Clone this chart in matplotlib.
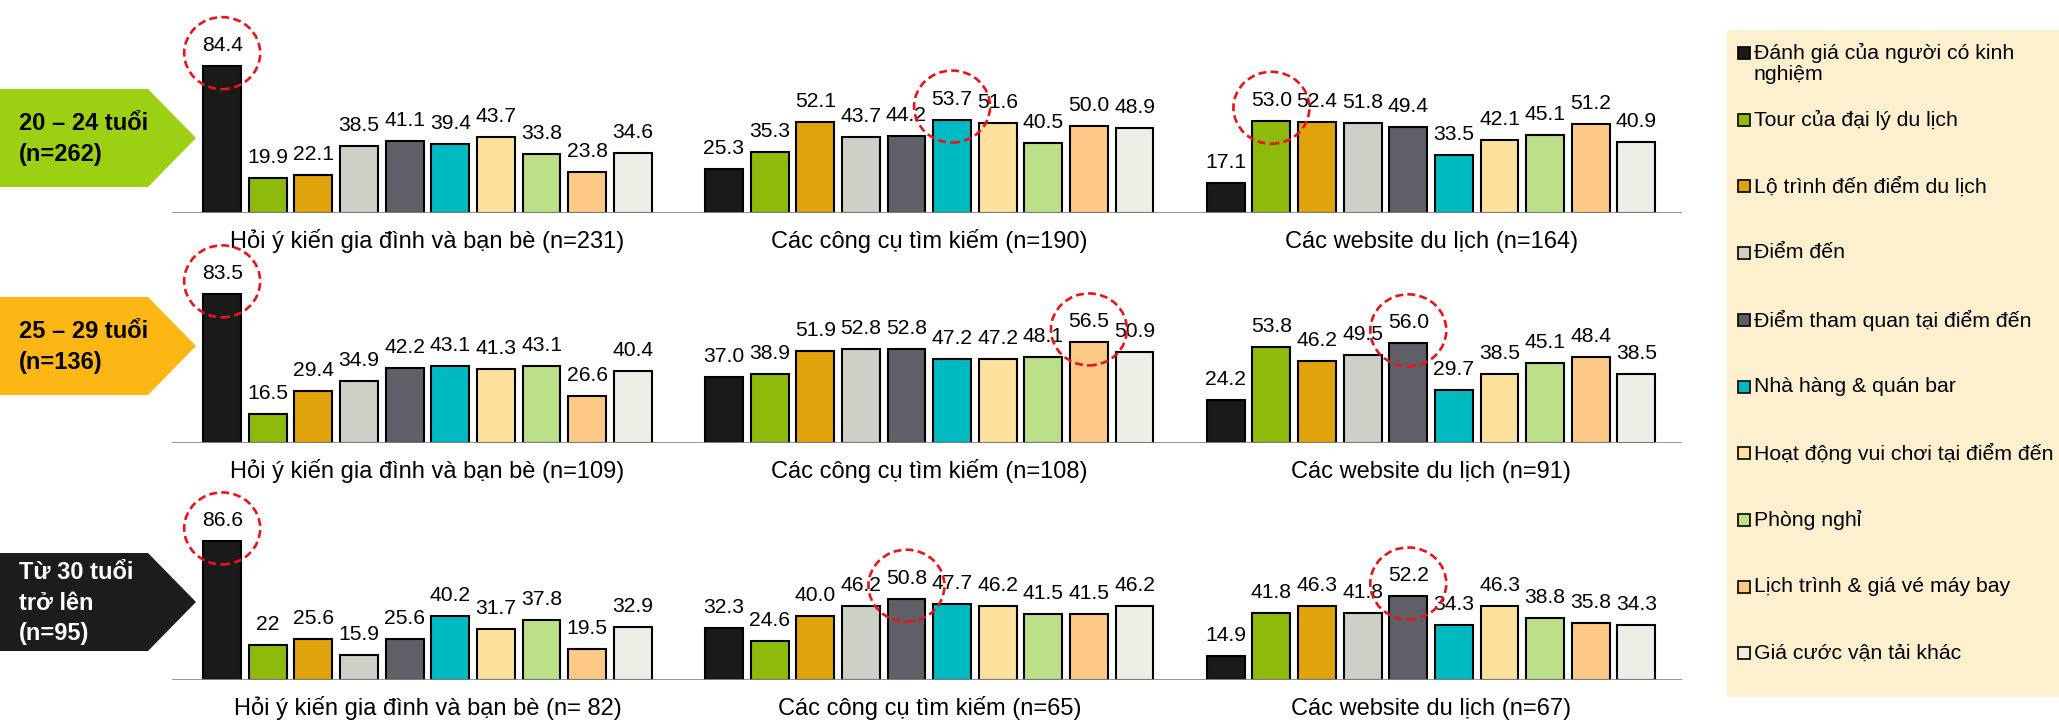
import matplotlib.pyplot as plt
from matplotlib.patches import Ellipse, Polygon, Rectangle
from matplotlib.transforms import ScaledTranslation

plt.rcParams['font.family'] = ['Liberation Sans', 'DejaVu Sans']

W, H, DPI = 2059, 724, 100

# info sources (one panel each) and answer categories (one bar each)
sources = ["Hỏi ý kiến gia đình và bạn bè", "Các công cụ tìm kiếm", "Các website du lịch"]
categories = [
    "Đánh giá của người có kinh\nnghiệm",
    "Tour của đại lý du lịch",
    "Lộ trình đến điểm du lịch",
    "Điểm đến",
    "Điểm tham quan tại điểm đến",
    "Nhà hàng & quán bar",
    "Hoạt động vui chơi tại điểm đến",
    "Phòng nghỉ",
    "Lịch trình & giá vé máy bay",
    "Giá cước vận tải khác",
]
bar_colors = ["#1A1A1A", "#8DBA0B", "#E0A30C", "#CDD0C7", "#5F5F67",
              "#00BAC2", "#FEE19D", "#BCDF89", "#FEC986", "#EDEEE6"]

# age groups
groups = [["20 – 24 tuổi", "(n=262)"],
          ["25 – 29 tuổi", "(n=136)"],
          ["Từ 30 tuổi", "trở lên", "(n=95)"]]
group_fill = ["#9DCF12", "#FDB714", "#1C1C1C"]
group_ink = ["black", "black", "white"]

# sample sizes per panel
n_20_24 = ["(n=231)", "(n=190)", "(n=164)"]
n_25_29 = ["(n=109)", "(n=108)", "(n=91)"]
n_30 = ["(n= 82)", "(n=65)", "(n=67)"]

# percentages, as printed on the bars
vals_20_24 = [
    ["84.4", "19.9", "22.1", "38.5", "41.1", "39.4", "43.7", "33.8", "23.8", "34.6"],
    ["25.3", "35.3", "52.1", "43.7", "44.2", "53.7", "51.6", "40.5", "50.0", "48.9"],
    ["17.1", "53.0", "52.4", "51.8", "49.4", "33.5", "42.1", "45.1", "51.2", "40.9"],
]
vals_25_29 = [
    ["83.5", "16.5", "29.4", "34.9", "42.2", "43.1", "41.3", "43.1", "26.6", "40.4"],
    ["37.0", "38.9", "51.9", "52.8", "52.8", "47.2", "47.2", "48.1", "56.5", "50.9"],
    ["24.2", "53.8", "46.2", "49.5", "56.0", "29.7", "38.5", "45.1", "48.4", "38.5"],
]
vals_30 = [
    ["86.6", "22", "25.6", "15.9", "25.6", "40.2", "31.7", "37.8", "19.5", "32.9"],
    ["32.3", "24.6", "40.0", "46.2", "50.8", "47.7", "46.2", "41.5", "41.5", "46.2"],
    ["14.9", "41.8", "46.3", "41.8", "52.2", "34.3", "46.3", "38.8", "35.8", "34.3"],
]

# (panel, bar) pairs circled in red
hl_20_24 = [(0, 0), (1, 5), (2, 1)]
hl_25_29 = [(0, 0), (1, 8), (2, 4)]
hl_30 = [(0, 0), (1, 4), (2, 4)]

rows = [(vals_20_24, n_20_24, hl_20_24),
        (vals_25_29, n_25_29, hl_25_29),
        (vals_30, n_30, hl_30)]

fig = plt.figure(figsize=(W / DPI, H / DPI), dpi=DPI)

# decoration layer in pixel units: age arrows + legend panel
deco = fig.add_axes([0, 0, 1, 1])
deco.set_xlim(0, W)
deco.set_ylim(H, 0)
deco.axis('off')

arrow_top = [89, 297, 553]
for top, lines, fc, ink in zip(arrow_top, groups, group_fill, group_ink):
    deco.add_patch(Polygon([(0, top), (148, top), (196, top + 49), (148, top + 98), (0, top + 98)],
                           closed=True, fc=fc, ec='none'))
    deco.text(19, top + 50, "\n".join(lines), ha='left', va='center', fontsize=17,
              fontweight='bold', color=ink, linespacing=1.4)

deco.add_patch(Rectangle((1727, 30), W - 1727, 667, fc='#FEEFCF', ec='none'))
for i, (lab, col) in enumerate(zip(categories, bar_colors)):
    y = 53 + i * 66.7
    deco.add_patch(Rectangle((1738, y - 6), 12, 12, fc=col, ec='black', lw=1.2))
    deco.text(1754, y - 10, lab, ha='left', va='top', fontsize=15.3, linespacing=1.15)

# one axes per age group, panels laid side by side on a shared baseline
base_px = [213, 443, 680]
unit_px = [1.74, 1.78, 1.60]
x0, x1 = 172, 1682
for r, (vals, ns, hls) in enumerate(rows):
    ax = fig.add_axes([x0 / W, (H - base_px[r]) / H, (x1 - x0) / W, 100 * unit_px[r] / H])
    ax.set_xlim(-1.1, 32)
    ax.set_ylim(0, 100)
    ax.axis('off')
    ax.axhline(0, color='#8C8C8C', lw=2, zorder=3)
    for p in range(3):
        heights = [float(s) for s in vals[p]]
        xs = [p * 11 + i for i in range(10)]
        ax.bar(xs, heights, width=0.83, color=bar_colors, edgecolor='black',
               linewidth=1.5, zorder=2)
        for x, v, s in zip(xs, heights, vals[p]):
            ax.annotate(s, (x, v), xytext=(0, 10.8), textcoords='offset points',
                        ha='center', va='baseline', fontsize=15.2, annotation_clip=False)
        ax.annotate(f"{sources[p]} {ns[p]}", (p * 11 + 4.5, 0), xytext=(0, -25),
                    textcoords='offset points', ha='center', va='baseline', fontsize=17,
                    annotation_clip=False)
    for p, i in hls:
        v = float(vals[p][i])
        ring = Ellipse((0, 0.13), 0.76, 0.72,
                       transform=fig.dpi_scale_trans + ScaledTranslation(p * 11 + i, v, ax.transData),
                       fill=False, ec='#E8141B', lw=1.9, ls=(0, (3, 1.6)), zorder=5)
        ring.set_clip_on(False)
        ax.add_artist(ring)

fig.savefig("out.png", dpi=DPI)
